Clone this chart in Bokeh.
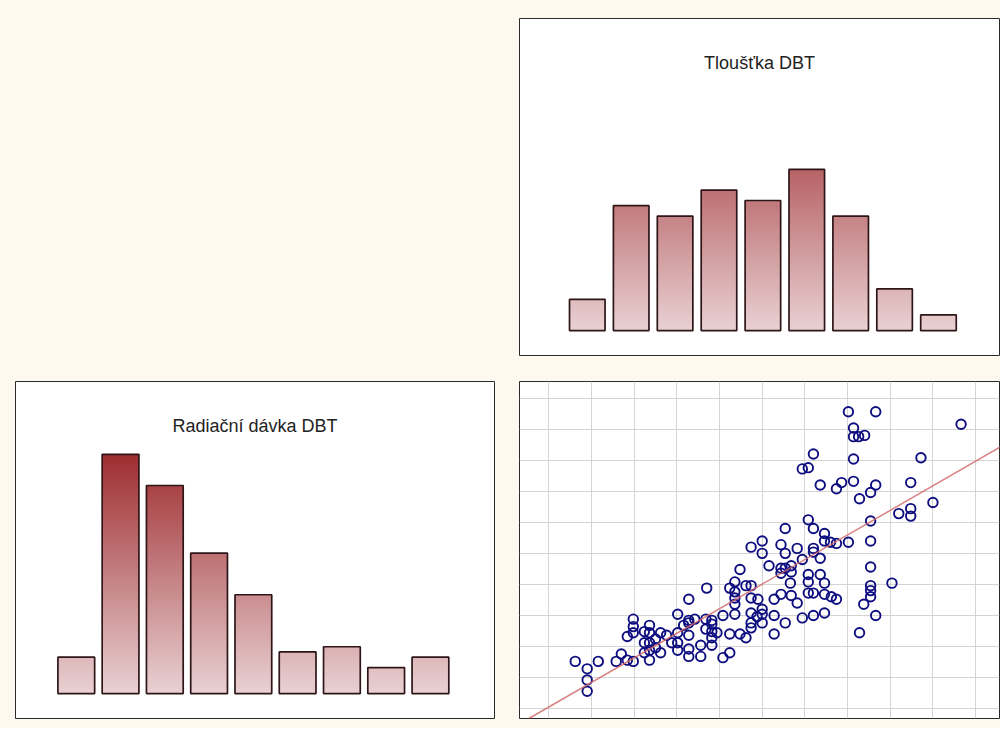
from bokeh.plotting import figure
from bokeh.layouts import column, row
from bokeh.models import Label, Grid, FixedTicker, Slope, Range1d
from bokeh.embed import file_html
from bokeh.resources import INLINE

# ---------------- data ----------------
bins = [1, 2, 3, 4, 5, 6, 7, 8, 9]
thickness_counts = [6, 24, 22, 27, 25, 31, 22, 8, 3]
dose_counts = [7, 46, 40, 27, 19, 8, 9, 5, 7]

title_thickness = "Tloušťka DBT"
title_dose = "Radiační dávka DBT"

# scatter: compressed breast thickness (mm) vs. dose (mGy)
thick_mm = [55.1, 58.3, 68.3, 55.7, 55.7, 56.3, 57.0, 51.0, 63.6, 55.7,
            49.7, 50.4, 51.8, 53.7, 54.3, 55.7, 58.3, 57.7, 56.4, 62.4,
            65.0, 61.0, 62.4, 62.4, 57.7, 50.4, 47.7, 51.0, 52.3, 52.3,
            53.0, 53.7, 55.1, 57.7, 45.0, 43.7, 45.0, 47.2, 47.7, 49.1,
            51.0, 51.0, 51.8, 49.7, 45.8, 47.2, 47.7, 48.4, 47.2, 48.4,
            42.4, 50.4, 50.4, 51.8, 52.3, 57.7, 60.2, 57.7, 57.7, 57.7,
            56.9, 58.3, 56.4, 48.3, 38.5, 41.2, 41.8, 43.1, 43.7, 41.8,
            41.8, 41.8, 43.7, 44.5, 45.0, 43.7, 45.0, 44.4, 45.0, 43.7,
            43.7, 46.4, 47.2, 48.4, 49.1, 50.4, 51.0, 52.3, 53.1, 53.7,
            52.3, 51.0, 49.7, 47.7, 46.4, 46.4, 43.1, 42.4, 41.2, 40.4,
            41.8, 41.2, 40.4, 39.1, 39.1, 39.1, 39.1, 39.1, 39.7, 38.4,
            38.4, 37.8, 37.8, 36.4, 35.1, 36.4, 35.8, 36.4, 37.1, 36.4,
            36.4, 36.4, 35.1, 35.1, 35.1, 34.4, 33.8, 33.1, 32.5, 32.5,
            33.1, 31.8, 31.8, 31.8, 31.8, 31.8, 31.2, 31.2, 31.2, 29.9,
            29.9, 29.9, 29.2, 28.5, 29.2, 29.9, 27.9, 25.8, 23.1, 24.5,
            24.5, 24.5]
dose_mgy = [2.89, 2.89, 2.79, 2.76, 2.69, 2.69, 2.70, 2.55, 2.52, 2.51,
            2.43, 2.44, 2.30, 2.27, 2.32, 2.33, 2.30, 2.24, 2.19, 2.32,
            2.16, 2.07, 2.11, 2.05, 2.01, 2.02, 1.95, 1.95, 1.91, 1.85,
            1.84, 1.83, 1.84, 1.85, 1.85, 1.80, 1.75, 1.82, 1.75, 1.79,
            1.79, 1.76, 1.71, 1.70, 1.65, 1.63, 1.63, 1.65, 1.59, 1.60,
            1.62, 1.58, 1.52, 1.58, 1.51, 1.64, 1.51, 1.49, 1.45, 1.40,
            1.34, 1.25, 1.11, 1.51, 1.47, 1.47, 1.52, 1.49, 1.49, 1.44,
            1.39, 1.34, 1.39, 1.38, 1.30, 1.27, 1.26, 1.24, 1.19, 1.19,
            1.15, 1.38, 1.42, 1.41, 1.35, 1.43, 1.43, 1.42, 1.40, 1.38,
            1.27, 1.25, 1.23, 1.19, 1.25, 1.10, 1.07, 1.10, 1.10, 1.25,
            1.26, 0.95, 0.91, 1.01, 1.07, 1.12, 1.18, 1.21, 1.11, 1.22,
            1.14, 1.01, 0.92, 1.38, 1.26, 1.21, 1.17, 1.19, 1.22, 1.09,
            0.98, 0.92, 1.11, 1.03, 0.97, 1.03, 1.09, 1.11, 1.06, 0.99,
            0.95, 1.17, 1.11, 1.03, 0.97, 0.89, 1.12, 1.03, 0.95, 1.22,
            1.16, 1.11, 1.08, 0.94, 0.89, 0.88, 0.88, 0.88, 0.88, 0.82,
            0.73, 0.64]

fit_slope = 0.0396
fit_intercept = -0.280

x_grid_ticks = [20, 25, 30, 35, 40, 45, 50, 55, 60, 65, 70]
y_grid_ticks = [0.5, 0.75, 1.0, 1.25, 1.5, 1.75, 2.0, 2.25, 2.5, 2.75, 3.0]

# ---------------- style ----------------
CREAM = "#FEF9EE"
OUTLINE = "#2a2a2a"
BAR_LINE = "#2e1618"
TOP_RGB = (158, 45, 48)      # colour at the level of the tallest bar
BOT_RGB = (233, 209, 211)    # colour at the base
GRAD_MAX = 46.0


def grad_color(v):
    t = max(0.0, min(1.0, v / GRAD_MAX))
    r = round(BOT_RGB[0] + (TOP_RGB[0] - BOT_RGB[0]) * t)
    g = round(BOT_RGB[1] + (TOP_RGB[1] - BOT_RGB[1]) * t)
    b = round(BOT_RGB[2] + (TOP_RGB[2] - BOT_RGB[2]) * t)
    return "#%02x%02x%02x" % (r, g, b)


def base_fig(w, h, xr, yr, bl, br, bt, bb):
    p = figure(width=w, height=h, x_range=xr, y_range=yr,
               x_axis_location=None, y_axis_location=None,
               toolbar_location=None, output_backend="svg")
    p.min_border = 0
    p.min_border_left = bl
    p.min_border_right = br
    p.min_border_top = bt
    p.min_border_bottom = bb
    p.border_fill_color = CREAM
    p.background_fill_color = "white"
    p.outline_line_color = OUTLINE
    p.outline_line_width = 1
    p.grid.visible = False
    return p


def histogram(p, counts, width, title, label_x):
    step = 0.25
    L, R, B, T, C = [], [], [], [], []
    for b, v in zip(bins, counts):
        y0 = 0.0
        while y0 < v:
            L.append(b - width / 2)
            R.append(b + width / 2)
            B.append(y0)
            T.append(min(y0 + 2 * step, v))
            C.append(grad_color(y0 + step / 2))
            y0 += step
    p.quad(left=L, right=R, bottom=B, top=T, fill_color=C, line_color=None)
    p.quad(left=[b - width / 2 for b in bins], right=[b + width / 2 for b in bins],
           bottom=[0] * len(bins), top=counts, fill_color=None,
           line_color=BAR_LINE, line_width=1.7)
    p.add_layout(Label(x=label_x, y=51.4, text=title, text_align="center",
                       text_baseline="middle", text_font="Liberation Sans",
                       text_font_size="18px", text_color="#222222"))


# ---------------- top-left (empty) ----------------
blank = figure(width=507, height=368, x_axis_location=None, y_axis_location=None,
               toolbar_location=None, output_backend="svg",
               x_range=(0, 1), y_range=(0, 1))
blank.min_border = 0
blank.border_fill_color = CREAM
blank.background_fill_color = CREAM
blank.outline_line_color = None
blank.grid.visible = False
blank.scatter([0.5], [0.5], size=1, alpha=0)

# ---------------- top-right: thickness histogram ----------------
xr1 = Range1d(-0.544, 10.39)
p1 = base_fig(493, 368, xr1, Range1d(-4.8, 60.0), 12, 1, 18, 13)
histogram(p1, thickness_counts, 0.81, title_thickness, (xr1.start + xr1.end) / 2)

# ---------------- bottom-left: dose histogram ----------------
xr2 = Range1d(-0.373, 10.447)
p2 = base_fig(507, 360, xr2, Range1d(-4.8, 60.0), 15, 13, 13, 10)
histogram(p2, dose_counts, 0.83, title_dose, (xr2.start + xr2.end) / 2)

# ---------------- bottom-right: scatter ----------------
p3 = base_fig(493, 360, Range1d(16.57, 72.80), Range1d(0.42, 3.134), 12, 1, 13, 10)
p3.add_layout(Grid(dimension=0, ticker=FixedTicker(ticks=x_grid_ticks),
                   grid_line_color="#d4d4d4", grid_line_width=1))
p3.add_layout(Grid(dimension=1, ticker=FixedTicker(ticks=y_grid_ticks),
                   grid_line_color="#d4d4d4", grid_line_width=1))
p3.scatter(thick_mm, dose_mgy, size=9.5, fill_color=None,
           line_color="#0e0e80", line_width=1.9)
p3.add_layout(Slope(gradient=fit_slope, y_intercept=fit_intercept,
                    line_color="#d46a6a", line_width=1.5, line_alpha=0.85))

layout = column(row(blank, p1), row(p2, p3))
layout.styles = {"background-color": CREAM}

open("out.html", "w").write(file_html(layout, INLINE))
